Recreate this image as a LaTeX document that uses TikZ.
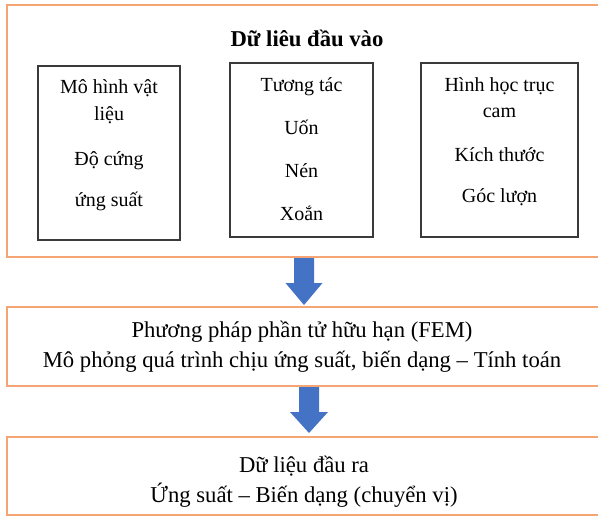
\documentclass[tikz,border=0pt]{standalone}
\usepackage{fontspec}
\setmainfont{Liberation Serif}
\usetikzlibrary{calc}
\definecolor{orangeline}{HTML}{F4A573}
\definecolor{arrowblue}{HTML}{4472C4}
\definecolor{boxgray}{HTML}{3A3A3A}
\begin{document}
\begin{tikzpicture}[x=0.75pt,y=-0.75pt,
  outerbox/.style={draw=orangeline, line width=1.4pt, inner sep=0pt, outer sep=0pt},
  innerbox/.style={draw=boxgray, line width=1.1pt, inner sep=0pt, outer sep=0pt},
  smalltxt/.style={anchor=base, inner sep=0pt, font=\fontsize{15}{18}\selectfont},
  bigtxt/.style={anchor=base, inner sep=0pt, font=\fontsize{17}{20}\selectfont},
  titletxt/.style={anchor=base, inner sep=0pt, font=\fontsize{17}{20}\selectfont\bfseries},
  blockarrow/.style={fill=arrowblue, draw=none}]
\useasboundingbox (0,0) rectangle (598,516);
\fill[white] (0,0) rectangle (598,516);

% outer boxes
\node[outerbox, minimum width=448.5pt, minimum height=189pt] (top) at (306,131) {};
\node[outerbox, minimum width=448.5pt, minimum height=59.25pt] (fem) at (306,346.5) {};
\node[outerbox, minimum width=448.5pt, minimum height=58.5pt] (out) at (306,476) {};

% inner boxes
\node[innerbox, minimum width=106.5pt, minimum height=130.5pt] (b1) at (109,153) {};
\node[innerbox, minimum width=107.25pt, minimum height=130.5pt] (b2) at (301.5,150) {};
\node[innerbox, minimum width=117.75pt, minimum height=130.5pt] (b3) at (499.5,150) {};

% title
\node[titletxt] (title) at (307,47) {Dữ liêu đầu vào};

% box 1
\node[smalltxt] (b1l1) at (109,94) {Mô hình vật};
\node[smalltxt] (b1l2) at (109,121) {liệu};
\node[smalltxt] (b1l3) at (109,166) {Độ cứng};
\node[smalltxt] (b1l4) at (109,207) {ứng suất};

% box 2
\node[smalltxt] (b2l1) at (301.5,92) {Tương tác};
\node[smalltxt] (b2l2) at (301.5,135) {Uốn};
\node[smalltxt] (b2l3) at (301.5,178) {Nén};
\node[smalltxt] (b2l4) at (301.5,220) {Xoắn};

% box 3
\node[smalltxt] (b3l1) at (499.5,92) {Hình học trục};
\node[smalltxt] (b3l2) at (499.5,118) {cam};
\node[smalltxt] (b3l3) at (499.5,162) {Kích thước};
\node[smalltxt] (b3l4) at (499.5,203) {Góc lượn};

% FEM box
\node[bigtxt] (fem1) at (302,337) {Phương pháp phần tử hữu hạn (FEM)};
\node[bigtxt] (fem2) at (302,367) {Mô phỏng quá trình chịu ứng suất, biến dạng – Tính toán};

% output box
\node[bigtxt] (out1) at (304,472) {Dữ liệu đầu ra};
\node[bigtxt] (out2) at (304,502) {Ứng suất – Biến dạng (chuyển vị)};

% arrows
\fill[blockarrow] ($(top.south)+(-12,1)$) -- ++(20,0) -- ++(0,25) -- ++(8.5,0)
  -- ($(fem.north)+(-2,-2)$) -- ++(-18.5,-22) -- ++(8.5,0) -- cycle;
\fill[blockarrow] ($(fem.south)+(-7,1)$) -- ++(20,0) -- ++(0,25) -- ++(9,0)
  -- ($(out.north)+(3,-4)$) -- ++(-19,-21) -- ++(9,0) -- cycle;
\end{tikzpicture}
\end{document}
